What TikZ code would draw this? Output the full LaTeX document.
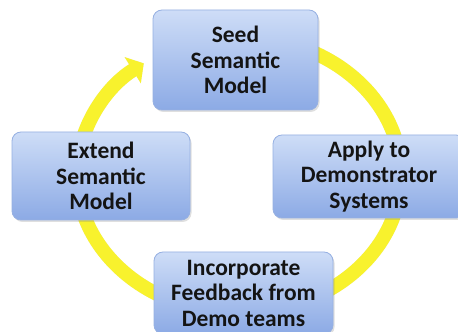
\documentclass[tikz,border=0pt]{standalone}
\usepackage{fontspec}
\setmainfont{Carlito}
\usetikzlibrary{shadows,arrows.meta,calc}
\definecolor{ringyellow}{RGB}{248,242,45}
\definecolor{boxtop}{RGB}{206,221,247}
\definecolor{boxbot}{RGB}{140,170,229}
\definecolor{boxline}{RGB}{150,176,226}
\definecolor{txt}{RGB}{20,20,20}
\tikzset{
  stagebox/.style={draw=boxline, line width=0.8pt, rounded corners=9pt,
    top color=boxtop, bottom color=boxbot, inner sep=0pt,
    align=center, text=txt,
    font=\bfseries\fontsize{23.5}{25.5}\selectfont,
    drop shadow={opacity=0.25, shadow xshift=1.5pt, shadow yshift=-2pt}},
  ringline/.style={line width=14pt, draw=ringyellow,
    -{Triangle[width=30pt,length=13pt]}},
  ringshadow/.style={line width=14pt, draw=black, opacity=0.08,
    -{Triangle[width=30pt,length=13pt]}}
}
\begin{document}
\begin{tikzpicture}[x=1pt,y=1pt]
\useasboundingbox (0,0) rectangle (458,332);
\clip (0,0) rectangle (458,332);
\fill[white] (0,0) rectangle (458,332);
% ring (ellipse centre (239,157), radii 162 x 138)
\coordinate (ringstart) at ($(239,157)+(80:162 and 138)$);
\begin{scope}[shift={(1.5,-1.5)}]
\draw[ringshadow] (ringstart) arc[start angle=80, end angle=-234, x radius=162, y radius=138];
\end{scope}
\draw[ringline] (ringstart) arc[start angle=80, end angle=-234, x radius=162, y radius=138];
% boxes
\node[stagebox, minimum width=165pt, minimum height=100pt] (seed) at (235.5,272) {Seed\\Semantic\\Model};
\node[stagebox, minimum width=192pt, minimum height=83pt] (apply) at (369,155.5) {Apply to\\Demonstrator\\Systems};
\node[stagebox, minimum width=178pt, minimum height=88pt] (extend) at (101,156) {Extend\\Semantic\\Model};
\node[stagebox, minimum width=179pt, minimum height=82pt] (incorp) at (243.5,39) {Incorporate\\Feedback from\\Demo teams};
\end{tikzpicture}
\end{document}
